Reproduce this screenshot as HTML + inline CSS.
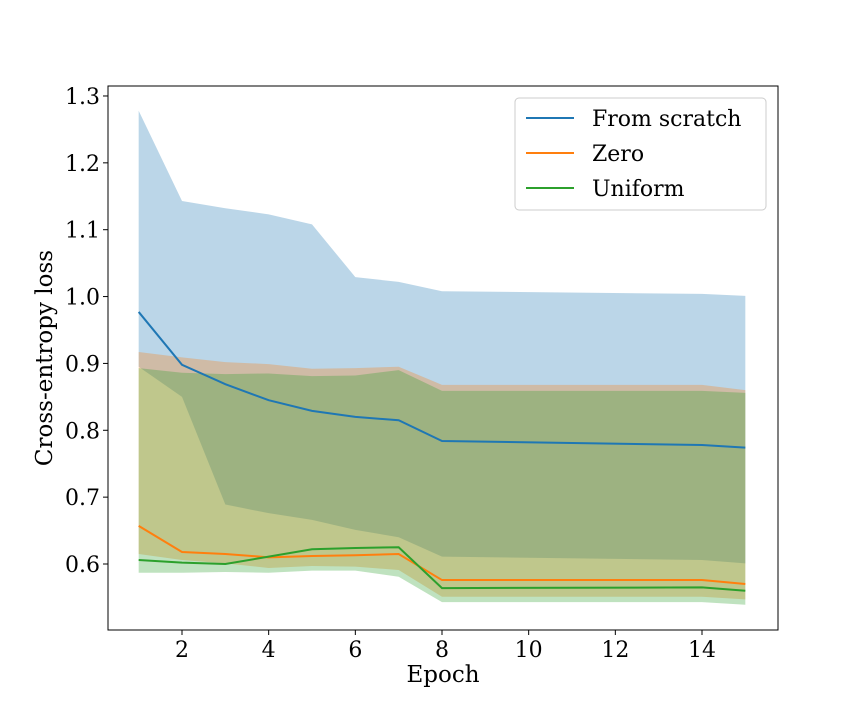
<!DOCTYPE html>
<html><head><meta charset="utf-8"><style>
body{margin:0;background:#fff}
text{font-family:"DejaVu Serif","Liberation Serif",serif;fill:#000}
</style></head><body>
<svg id="chart" width="864" height="720" xmlns="http://www.w3.org/2000/svg">
<g id="fills"></g><g id="lines"></g><g id="axes"></g>
</svg>
<script>
const epochs=[1,2,3,4,5,6,7,8,14,15];
const scratchMean=[0.977,0.898,0.869,0.845,0.829,0.820,0.815,0.784,0.778,0.774];
const scratchUpper=[1.278,1.143,1.132,1.123,1.108,1.029,1.022,1.008,1.004,1.001];
const scratchLower=[0.895,0.850,0.689,0.676,0.666,0.651,0.640,0.611,0.606,0.601];
const zeroMean=[0.657,0.618,0.615,0.610,0.612,0.613,0.615,0.576,0.576,0.570];
const zeroUpper=[0.917,0.909,0.902,0.899,0.892,0.893,0.895,0.868,0.868,0.860];
const zeroLower=[0.615,0.606,0.601,0.594,0.597,0.596,0.591,0.551,0.551,0.547];
const uniMean=[0.606,0.602,0.600,0.611,0.622,0.624,0.625,0.564,0.565,0.560];
const uniUpper=[0.893,0.886,0.884,0.885,0.881,0.882,0.890,0.859,0.859,0.856];
const uniLower=[0.587,0.587,0.588,0.587,0.590,0.590,0.581,0.543,0.543,0.539];
const xTicks=[2,4,6,8,10,12,14];
const yTicks=[0.6,0.7,0.8,0.9,1.0,1.1,1.2,1.3];
const yTickLabels=["0.6","0.7","0.8","0.9","1.0","1.1","1.2","1.3"];
const seriesNames=["From scratch","Zero","Uniform"];
const NS="http://www.w3.org/2000/svg";
const X=v=>182+(v-2)*(520/12);
const Y=v=>564-(v-0.6)*668.6;
function mk(tag,attrs,parent){const e=document.createElementNS(NS,tag);for(const k in attrs)e.setAttribute(k,attrs[k]);parent.appendChild(e);return e;}
const fills=document.getElementById('fills'),lines=document.getElementById('lines'),axes=document.getElementById('axes');
const series=[[scratchMean,scratchUpper,scratchLower,'#1f77b4','scratch'],[zeroMean,zeroUpper,zeroLower,'#ff7f0e','zero'],[uniMean,uniUpper,uniLower,'#2ca02c','uniform']];
series.forEach(s=>{
  let d=epochs.map((e,i)=>(i?'L':'M')+X(e)+','+Y(s[1][i])).join('');
  for(let i=epochs.length-1;i>=0;i--)d+='L'+X(epochs[i])+','+Y(s[2][i]);
  const p=mk('path',{d:d+'Z',fill:s[3],'fill-opacity':0.3},fills);
  
  
});
series.forEach(s=>{
  const pts=epochs.map((e,i)=>X(e)+','+Y(s[0][i])).join(' ');
  const l=mk('polyline',{points:pts,fill:'none',stroke:s[3],'stroke-width':2},lines);
  
  
});
const fr=mk('rect',{x:108,y:86,width:670,height:544,fill:'none',stroke:'#000','stroke-width':1},axes);


xTicks.forEach(t=>{
  mk('line',{x1:X(t),x2:X(t),y1:630,y2:635,stroke:'#000'},axes);
  const tx=mk('text',{x:X(t),y:657,'text-anchor':'middle','font-size':22},axes);
  tx.textContent=t;
  
  
});
yTicks.forEach((t,i)=>{
  mk('line',{x1:103,x2:108,y1:Y(t),y2:Y(t),stroke:'#000'},axes);
  const tx=mk('text',{x:100,y:Y(t)+8,'text-anchor':'end','font-size':22},axes);
  tx.textContent=yTickLabels[i];
  
  
});
const xt=mk('text',{x:443,y:682,'text-anchor':'middle','font-size':23},axes);
xt.textContent='Epoch';


const yt=mk('text',{x:0,y:0,'text-anchor':'middle','font-size':23,transform:'translate(52,358) rotate(-90)'},axes);
yt.textContent='Cross-entropy loss';


const lg=mk('rect',{x:515,y:98,width:251,height:112,rx:4,fill:'#fff','fill-opacity':0.8,stroke:'#ccc'},axes);


series.forEach((s,i)=>{
  const yy=118+i*35;
  mk('line',{x1:526,x2:574,y1:yy,y2:yy,stroke:s[3],'stroke-width':2},axes);
  const t=mk('text',{x:592,y:yy+8,'font-size':22},axes);
  t.textContent=seriesNames[i];
  
  
});
</script>
</body></html>
